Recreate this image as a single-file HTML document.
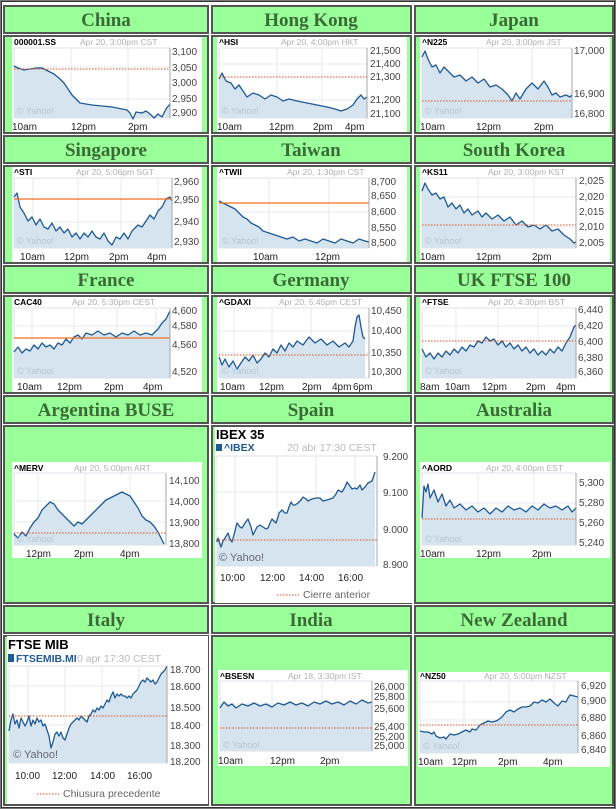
<!DOCTYPE html>
<html><head><meta charset="utf-8"><style>
html,body{margin:0;padding:0;background:#fff;width:616px;height:809px;overflow:hidden}
svg{display:block}
.h{font-family:"Liberation Serif",serif;font-weight:bold;font-size:19px;fill:#3b6a36;text-anchor:middle}
.t{font-family:"Liberation Sans",sans-serif;font-weight:bold;font-size:8.5px;fill:#000}
.d{font-family:"Liberation Sans",sans-serif;font-size:8.5px;fill:#b0b0b0}
.y{font-family:"Liberation Sans",sans-serif;font-size:10px;fill:#444}
.x{font-family:"Liberation Sans",sans-serif;font-size:10px;fill:#222}
.c{font-family:"Liberation Sans",sans-serif;font-size:9px;fill:#b8c6d4}
.ln{fill:none;stroke:#1f5a94;stroke-width:1.3;stroke-linejoin:round}
.ar{fill:#d6e4ef}
.g{stroke:#e4eaf0;stroke-width:1}
.rd{stroke:#e0501a;stroke-width:1;stroke-dasharray:1.5,1.5}
.rs{stroke:#f07020;stroke-width:1.2}
.cell{fill:#99ff99;stroke:#555;stroke-width:2}
</style></head><body>
<svg width="616" height="809" viewBox="0 0 616 809" xmlns="http://www.w3.org/2000/svg">
<rect x="0.5" y="0.5" width="615" height="808" fill="#fff" stroke="#777" stroke-width="1"/>
<rect x="1.5" y="1.5" width="613" height="806" fill="none" stroke="#333" stroke-width="1"/>
<g>
<rect class="cell" x="4" y="6" width="204" height="27"/><rect class="cell" x="212" y="6" width="199" height="27"/><rect class="cell" x="415" y="6" width="198" height="27"/>
<rect class="cell" x="4" y="36" width="204" height="97"/><rect class="cell" x="212" y="36" width="199" height="97"/><rect class="cell" x="415" y="36" width="198" height="97"/>
<rect class="cell" x="4" y="136" width="204" height="27"/><rect class="cell" x="212" y="136" width="199" height="27"/><rect class="cell" x="415" y="136" width="198" height="27"/>
<rect class="cell" x="4" y="166" width="204" height="97"/><rect class="cell" x="212" y="166" width="199" height="97"/><rect class="cell" x="415" y="166" width="198" height="97"/>
<rect class="cell" x="4" y="266" width="204" height="27"/><rect class="cell" x="212" y="266" width="199" height="27"/><rect class="cell" x="415" y="266" width="198" height="27"/>
<rect class="cell" x="4" y="296" width="204" height="97"/><rect class="cell" x="212" y="296" width="199" height="97"/><rect class="cell" x="415" y="296" width="198" height="97"/>
<rect class="cell" x="4" y="396" width="204" height="27"/><rect class="cell" x="212" y="396" width="199" height="27"/><rect class="cell" x="415" y="396" width="198" height="27"/>
<rect class="cell" x="4" y="426" width="204" height="177"/><rect class="cell" x="212" y="426" width="199" height="177"/><rect class="cell" x="415" y="426" width="198" height="177"/>
<rect class="cell" x="4" y="606" width="204" height="27"/><rect class="cell" x="212" y="606" width="199" height="27"/><rect class="cell" x="415" y="606" width="198" height="27"/>
<rect class="cell" x="4" y="636" width="204" height="169"/><rect class="cell" x="212" y="636" width="199" height="169"/><rect class="cell" x="415" y="636" width="198" height="169"/>
</g>
<text class="h" x="106" y="26">China</text><text class="h" x="311" y="26">Hong Kong</text><text class="h" x="514" y="26">Japan</text>
<text class="h" x="106" y="156">Singapore</text><text class="h" x="311" y="156">Taiwan</text><text class="h" x="514" y="156">South Korea</text>
<text class="h" x="106" y="286">France</text><text class="h" x="311" y="286">Germany</text><text class="h" x="514" y="286">UK FTSE 100</text>
<text class="h" x="106" y="416">Argentina BUSE</text><text class="h" x="311" y="416">Spain</text><text class="h" x="514" y="416">Australia</text>
<text class="h" x="106" y="626">Italy</text><text class="h" x="311" y="626">India</text><text class="h" x="514" y="626">New Zealand</text>

<!-- China -->
<g transform="translate(12,37)">
<rect width="190" height="95" fill="#fff"/><rect x="2" y="11" width="156" height="70" fill="#fff" stroke="#ccd" stroke-width="0.6"/>
<line class="g" x1="59" y1="11" x2="59" y2="81"/><line class="g" x1="116" y1="11" x2="116" y2="81"/><line class="g" x1="2" y1="30" x2="158" y2="30"/><line class="g" x1="2" y1="62" x2="158" y2="62"/>
<polygon class="ar" points="2,29 6,31 12,33 18,32 25,31 30,31 36,34 42,37 48,42 52,46 56,52 60,58 64,62 68,66 80,68 100,70 115,73 118,76 121,82 124,75 130,76 134,74 138,77 142,81 146,77 150,80 154,72 158,67 158,81 2,81"/>
<polyline class="ln" points="2,29 6,31 12,33 18,32 25,31 30,31 36,34 42,37 48,42 52,46 56,52 60,58 64,62 68,66 80,68 100,70 115,73 118,76 121,82 124,75 130,76 134,74 138,77 142,81 146,77 150,80 154,72 158,67"/>
<line class="rd" x1="2" y1="32" x2="158" y2="32"/><line x1="158" y1="11" x2="158" y2="81" stroke="#999" stroke-width="0.8"/>
<text class="c" x="5" y="77">© Yahoo!</text><text class="t" x="2" y="8">000001.SS</text><text class="d" x="68" y="8">Apr 20, 3:00pm CST</text>
<text class="y" x="160" y="18">3,100</text><text class="y" x="160" y="34">3,050</text><text class="y" x="160" y="49">3,000</text><text class="y" x="160" y="65">2,950</text><text class="y" x="160" y="79">2,900</text>
<text class="x" x="0" y="93">10am</text><text class="x" x="59" y="93">12pm</text><text class="x" x="116" y="93">2pm</text></g>

<!-- Hong Kong -->
<g transform="translate(217,37)">
<rect width="190" height="95" fill="#fff"/><rect x="2" y="11" width="148" height="70" fill="#fff" stroke="#ccd" stroke-width="0.6"/>
<line class="g" x1="60" y1="11" x2="60" y2="81"/><line class="g" x1="105" y1="11" x2="105" y2="81"/><line class="g" x1="2" y1="27" x2="150" y2="27"/><line class="g" x1="2" y1="63" x2="150" y2="63"/>
<polygon class="ar" points="2,42 5,36 9,44 14,46 18,52 22,48 26,54 30,60 36,56 42,58 48,62 54,58 60,60 66,64 72,62 80,64 90,66 100,68 110,70 118,72 124,74 130,72 136,68 140,62 144,58 147,62 150,60 150,81 2,81"/>
<polyline class="ln" points="2,42 5,36 9,44 14,46 18,52 22,48 26,54 30,60 36,56 42,58 48,62 54,58 60,60 66,64 72,62 80,64 90,66 100,68 110,70 118,72 124,74 130,72 136,68 140,62 144,58 147,62 150,60"/>
<line class="rd" x1="2" y1="40" x2="150" y2="40"/><line x1="150" y1="11" x2="150" y2="81" stroke="#999" stroke-width="0.8"/>
<text class="c" x="5" y="77">© Yahoo!</text><text class="t" x="2" y="8">^HSI</text><text class="d" x="64" y="8">Apr 20, 4:00pm HKT</text>
<text class="y" x="153" y="17">21,500</text><text class="y" x="153" y="30">21,400</text><text class="y" x="153" y="43">21,300</text><text class="y" x="153" y="66">21,200</text><text class="y" x="153" y="80">21,100</text>
<text class="x" x="0" y="93">10am</text><text class="x" x="52" y="93">12pm</text><text class="x" x="96" y="93">2pm</text><text class="x" x="128" y="93">4pm</text></g>

<!-- Japan -->
<g transform="translate(420,37)">
<rect width="190" height="95" fill="#fff"/><rect x="2" y="11" width="150" height="70" fill="#fff" stroke="#ccd" stroke-width="0.6"/>
<line class="g" x1="58" y1="11" x2="58" y2="81"/><line class="g" x1="112" y1="11" x2="112" y2="81"/><line class="g" x1="2" y1="56" x2="152" y2="56"/>
<polygon class="ar" points="2,20 5,14 8,22 12,30 16,28 20,36 24,30 28,34 34,40 40,38 46,44 52,40 58,46 64,42 70,50 76,48 82,52 88,58 92,64 96,56 100,62 106,52 112,46 118,52 124,44 128,50 132,58 136,56 140,60 146,58 150,60 152,58 152,81 2,81"/>
<polyline class="ln" points="2,20 5,14 8,22 12,30 16,28 20,36 24,30 28,34 34,40 40,38 46,44 52,40 58,46 64,42 70,50 76,48 82,52 88,58 92,64 96,56 100,62 106,52 112,46 118,52 124,44 128,50 132,58 136,56 140,60 146,58 150,60 152,58"/>
<line class="rd" x1="2" y1="64" x2="152" y2="64"/><line x1="152" y1="11" x2="152" y2="81" stroke="#999" stroke-width="0.8"/>
<text class="c" x="5" y="77">© Yahoo!</text><text class="t" x="2" y="8">^N225</text><text class="d" x="66" y="8">Apr 20, 3:00pm JST</text>
<text class="y" x="154" y="17">17,000</text><text class="y" x="154" y="60">16,900</text><text class="y" x="154" y="80">16,800</text>
<text class="x" x="0" y="93">10am</text><text class="x" x="56" y="93">12pm</text><text class="x" x="114" y="93">2pm</text></g>

<!-- Singapore -->
<g transform="translate(12,167)">
<rect width="190" height="95" fill="#fff"/><rect x="2" y="11" width="158" height="70" fill="#fff" stroke="#ccd" stroke-width="0.6"/>
<line class="g" x1="21" y1="11" x2="21" y2="81"/><line class="g" x1="66" y1="11" x2="66" y2="81"/><line class="g" x1="109" y1="11" x2="109" y2="81"/><line class="g" x1="146" y1="11" x2="146" y2="81"/><line class="g" x1="2" y1="55" x2="160" y2="55"/>
<polygon class="ar" points="2,30 5,26 8,40 12,46 16,54 20,50 24,58 28,52 32,60 36,62 40,56 44,64 48,60 52,66 56,62 60,70 64,66 68,72 72,66 76,70 80,64 84,70 88,72 92,66 96,74 100,78 104,70 108,72 112,66 116,72 120,64 126,58 130,60 134,54 138,48 142,52 146,44 150,40 154,32 158,30 160,34 160,81 2,81"/>
<polyline class="ln" points="2,30 5,26 8,40 12,46 16,54 20,50 24,58 28,52 32,60 36,62 40,56 44,64 48,60 52,66 56,62 60,70 64,66 68,72 72,66 76,70 80,64 84,70 88,72 92,66 96,74 100,78 104,70 108,72 112,66 116,72 120,64 126,58 130,60 134,54 138,48 142,52 146,44 150,40 154,32 158,30 160,34"/>
<line class="rs" x1="2" y1="32" x2="160" y2="32"/><line x1="160" y1="11" x2="160" y2="81" stroke="#999" stroke-width="0.8"/>
<text class="c" x="5" y="77">© Yahoo!</text><text class="t" x="2" y="8">^STI</text><text class="d" x="64" y="8">Apr 20, 5:06pm SGT</text>
<text class="y" x="162" y="18">2,960</text><text class="y" x="162" y="36">2,950</text><text class="y" x="162" y="58">2,940</text><text class="y" x="162" y="78">2,930</text>
<text class="x" x="8" y="93">10am</text><text class="x" x="52" y="93">12pm</text><text class="x" x="97" y="93">2pm</text><text class="x" x="135" y="93">4pm</text></g>

<!-- Taiwan -->
<g transform="translate(217,167)">
<rect width="190" height="95" fill="#fff"/><rect x="2" y="11" width="150" height="70" fill="#fff" stroke="#ccd" stroke-width="0.6"/>
<line class="g" x1="52" y1="11" x2="52" y2="81"/><line class="g" x1="112" y1="11" x2="112" y2="81"/><line class="g" x1="2" y1="45" x2="152" y2="45"/>
<polygon class="ar" points="2,34 6,36 10,38 14,40 18,42 22,46 26,50 30,52 34,56 38,58 42,60 46,64 52,66 58,68 64,70 70,72 76,70 82,74 88,72 94,74 100,76 106,72 112,74 118,76 124,72 130,74 136,76 142,72 148,74 152,75 152,81 2,81"/>
<polyline class="ln" points="2,34 6,36 10,38 14,40 18,42 22,46 26,50 30,52 34,56 38,58 42,60 46,64 52,66 58,68 64,70 70,72 76,70 82,74 88,72 94,74 100,76 106,72 112,74 118,76 124,72 130,74 136,76 142,72 148,74 152,75"/>
<line class="rs" x1="2" y1="36" x2="152" y2="36"/><line x1="152" y1="11" x2="152" y2="81" stroke="#999" stroke-width="0.8"/>
<text class="c" x="5" y="77">© Yahoo!</text><text class="t" x="2" y="8">^TWII</text><text class="d" x="70" y="8">Apr 20, 1:30pm CST</text>
<text class="y" x="154" y="18">8,700</text><text class="y" x="154" y="32">8,650</text><text class="y" x="154" y="48">8,600</text><text class="y" x="154" y="64">8,550</text><text class="y" x="154" y="79">8,500</text>
<text class="x" x="36" y="93">10am</text><text class="x" x="98" y="93">12pm</text></g>

<!-- South Korea -->
<g transform="translate(420,167)">
<rect width="190" height="95" fill="#fff"/><rect x="2" y="11" width="154" height="70" fill="#fff" stroke="#ccd" stroke-width="0.6"/>
<line class="g" x1="58" y1="11" x2="58" y2="81"/><line class="g" x1="114" y1="11" x2="114" y2="81"/><line class="g" x1="2" y1="30" x2="156" y2="30"/><line class="g" x1="2" y1="60" x2="156" y2="60"/>
<polygon class="ar" points="2,24 5,16 8,22 12,28 16,26 20,32 24,30 28,40 32,36 36,42 40,38 44,46 48,42 52,48 58,44 62,50 66,46 72,52 78,48 84,54 90,50 96,58 102,54 108,60 114,58 120,62 126,58 132,64 138,62 144,68 150,72 154,76 156,75 156,81 2,81"/>
<polyline class="ln" points="2,24 5,16 8,22 12,28 16,26 20,32 24,30 28,40 32,36 36,42 40,38 44,46 48,42 52,48 58,44 62,50 66,46 72,52 78,48 84,54 90,50 96,58 102,54 108,60 114,58 120,62 126,58 132,64 138,62 144,68 150,72 154,76 156,75"/>
<line class="rd" x1="2" y1="58" x2="156" y2="58"/><line x1="156" y1="11" x2="156" y2="81" stroke="#999" stroke-width="0.8"/>
<text class="c" x="5" y="77">© Yahoo!</text><text class="t" x="2" y="8">^KS11</text><text class="d" x="68" y="8">Apr 20, 3:00pm KST</text>
<text class="y" x="159" y="17">2,025</text><text class="y" x="159" y="33">2,020</text><text class="y" x="159" y="48">2,015</text><text class="y" x="159" y="63">2,010</text><text class="y" x="159" y="79">2,005</text>
<text class="x" x="0" y="93">10am</text><text class="x" x="56" y="93">12pm</text><text class="x" x="112" y="93">2pm</text></g>

<!-- France -->
<g transform="translate(12,297)">
<rect width="190" height="95" fill="#fff"/><rect x="2" y="11" width="156" height="70" fill="#fff" stroke="#ccd" stroke-width="0.6"/>
<line class="g" x1="20" y1="11" x2="20" y2="81"/><line class="g" x1="62" y1="11" x2="62" y2="81"/><line class="g" x1="105" y1="11" x2="105" y2="81"/><line class="g" x1="144" y1="11" x2="144" y2="81"/><line class="g" x1="2" y1="29" x2="158" y2="29"/><line class="g" x1="2" y1="60" x2="158" y2="60"/>
<polygon class="ar" points="2,55 6,50 10,56 14,52 18,54 22,48 26,52 30,46 34,50 38,48 42,52 46,46 50,48 54,42 58,46 62,40 66,38 70,42 74,36 80,38 86,34 92,38 98,36 104,40 110,36 116,38 122,34 128,38 134,36 140,38 146,32 150,26 154,22 158,14 158,81 2,81"/>
<polyline class="ln" points="2,55 6,50 10,56 14,52 18,54 22,48 26,52 30,46 34,50 38,48 42,52 46,46 50,48 54,42 58,46 62,40 66,38 70,42 74,36 80,38 86,34 92,38 98,36 104,40 110,36 116,38 122,34 128,38 134,36 140,38 146,32 150,26 154,22 158,14"/>
<line class="rs" x1="2" y1="41" x2="158" y2="41"/><line x1="158" y1="11" x2="158" y2="81" stroke="#999" stroke-width="0.8"/>
<text class="c" x="5" y="77">© Yahoo!</text><text class="t" x="2" y="8">CAC40</text><text class="d" x="60" y="8">Apr 20, 5:30pm CEST</text>
<text class="y" x="160" y="17">4,600</text><text class="y" x="160" y="32">4,580</text><text class="y" x="160" y="51">4,560</text><text class="y" x="160" y="78">4,520</text>
<text class="x" x="5" y="93">10am</text><text class="x" x="45" y="93">12pm</text><text class="x" x="92" y="93">2pm</text><text class="x" x="131" y="93">4pm</text></g>

<!-- Germany -->
<g transform="translate(217,297)">
<rect width="190" height="95" fill="#fff"/><rect x="2" y="11" width="150" height="70" fill="#fff" stroke="#ccd" stroke-width="0.6"/>
<line class="g" x1="17" y1="11" x2="17" y2="81"/><line class="g" x1="55" y1="11" x2="55" y2="81"/><line class="g" x1="94" y1="11" x2="94" y2="81"/><line class="g" x1="2" y1="34" x2="152" y2="34"/><line class="g" x1="2" y1="56" x2="152" y2="56"/>
<polygon class="ar" points="2,60 5,68 8,62 12,70 16,64 20,72 24,66 28,60 32,64 36,58 40,66 44,62 48,56 52,60 56,52 60,56 64,48 68,54 72,46 76,50 80,44 86,48 92,40 98,46 104,42 110,48 116,44 122,50 128,46 132,50 136,44 138,30 140,20 142,18 144,30 146,40 148,42 148,81 2,81"/>
<polyline class="ln" points="2,60 5,68 8,62 12,70 16,64 20,72 24,66 28,60 32,64 36,58 40,66 44,62 48,56 52,60 56,52 60,56 64,48 68,54 72,46 76,50 80,44 86,48 92,40 98,46 104,42 110,48 116,44 122,50 128,46 132,50 136,44 138,30 140,20 142,18 144,30 146,40 148,42"/>
<line class="rd" x1="2" y1="58" x2="152" y2="58"/><line x1="152" y1="11" x2="152" y2="81" stroke="#999" stroke-width="0.8"/>
<text class="c" x="5" y="77">© Yahoo!</text><text class="t" x="2" y="8">^GDAXI</text><text class="d" x="62" y="8">Apr 20, 5:45pm CEST</text>
<text class="y" x="154" y="17">10,450</text><text class="y" x="154" y="37">10,400</text><text class="y" x="154" y="59">10,350</text><text class="y" x="154" y="78">10,300</text>
<text class="x" x="3" y="93">10am</text><text class="x" x="42" y="93">12pm</text><text class="x" x="85" y="93">2pm</text><text class="x" x="115" y="93">4pm</text><text class="x" x="136" y="93">6pm</text></g>

<!-- UK -->
<g transform="translate(420,297)">
<rect width="190" height="95" fill="#fff"/><rect x="2" y="11" width="154" height="70" fill="#fff" stroke="#ccd" stroke-width="0.6"/>
<line class="g" x1="36" y1="11" x2="36" y2="81"/><line class="g" x1="78" y1="11" x2="78" y2="81"/><line class="g" x1="118" y1="11" x2="118" y2="81"/><line class="g" x1="2" y1="29" x2="156" y2="29"/><line class="g" x1="2" y1="61" x2="156" y2="61"/>
<polygon class="ar" points="2,52 6,60 10,56 14,62 18,56 22,60 26,54 30,58 34,52 38,56 42,50 46,54 50,48 54,50 58,44 62,46 66,40 70,44 74,42 78,48 82,44 86,50 90,46 94,52 98,48 102,54 106,50 110,56 114,52 118,58 122,54 126,58 130,52 134,56 138,50 142,54 146,46 150,40 154,30 156,28 156,81 2,81"/>
<polyline class="ln" points="2,52 6,60 10,56 14,62 18,56 22,60 26,54 30,58 34,52 38,56 42,50 46,54 50,48 54,50 58,44 62,46 66,40 70,44 74,42 78,48 82,44 86,50 90,46 94,52 98,48 102,54 106,50 110,56 114,52 118,58 122,54 126,58 130,52 134,56 138,50 142,54 146,46 150,40 154,30 156,28"/>
<line class="rd" x1="2" y1="44" x2="156" y2="44"/><line x1="156" y1="11" x2="156" y2="81" stroke="#999" stroke-width="0.8"/>
<text class="c" x="5" y="77">© Yahoo!</text><text class="t" x="2" y="8">^FTSE</text><text class="d" x="68" y="8">Apr 20, 4:30pm BST</text>
<text class="y" x="158" y="16">6,440</text><text class="y" x="158" y="32">6,420</text><text class="y" x="158" y="48">6,400</text><text class="y" x="158" y="64">6,380</text><text class="y" x="158" y="78">6,360</text>
<text class="x" x="0" y="93">8am</text><text class="x" x="25" y="93">10am</text><text class="x" x="62" y="93">12pm</text><text class="x" x="106" y="93">2pm</text><text class="x" x="136" y="93">4pm</text></g>

<!-- Argentina -->
<g transform="translate(12,462)">
<rect width="190" height="96" fill="#fff"/><rect x="2" y="11" width="152" height="72" fill="#fff" stroke="#ccd" stroke-width="0.6"/>
<line class="g" x1="26" y1="11" x2="26" y2="83"/><line class="g" x1="73" y1="11" x2="73" y2="83"/><line class="g" x1="118" y1="11" x2="118" y2="83"/><line class="g" x1="2" y1="39" x2="154" y2="39"/><line class="g" x1="2" y1="60" x2="154" y2="60"/>
<polygon class="ar" points="2,72 6,76 10,70 14,74 18,66 22,60 26,56 30,48 34,44 38,40 42,42 46,48 50,52 54,56 58,60 62,64 66,60 70,62 74,58 78,54 82,50 86,46 90,42 94,38 98,36 102,34 106,32 110,30 114,32 118,34 122,40 126,46 130,54 134,58 138,60 142,64 146,70 150,78 152,82 152,83 2,83"/>
<polyline class="ln" points="2,72 6,76 10,70 14,74 18,66 22,60 26,56 30,48 34,44 38,40 42,42 46,48 50,52 54,56 58,60 62,64 66,60 70,62 74,58 78,54 82,50 86,46 90,42 94,38 98,36 102,34 106,32 110,30 114,32 118,34 122,40 126,46 130,54 134,58 138,60 142,64 146,70 150,78 152,82"/>
<line class="rd" x1="2" y1="71" x2="154" y2="71"/><line x1="154" y1="11" x2="154" y2="83" stroke="#999" stroke-width="0.8"/>
<text class="c" x="5" y="80">© Yahoo!</text><text class="t" x="2" y="9">^MERV</text><text class="d" x="62" y="9">Apr 20, 5:00pm ART</text>
<text class="y" x="157" y="22">14,100</text><text class="y" x="157" y="43">14,000</text><text class="y" x="157" y="64">13,900</text><text class="y" x="157" y="85">13,800</text>
<text class="x" x="14" y="95">12pm</text><text class="x" x="62" y="95">2pm</text><text class="x" x="108" y="95">4pm</text></g>

<!-- Australia -->
<g transform="translate(420,462)">
<rect width="190" height="96" fill="#fff"/><rect x="2" y="11" width="154" height="72" fill="#fff" stroke="#ccd" stroke-width="0.6"/>
<line class="g" x1="58" y1="11" x2="58" y2="83"/><line class="g" x1="114" y1="11" x2="114" y2="83"/><line class="g" x1="2" y1="41" x2="156" y2="41"/><line class="g" x1="2" y1="60" x2="156" y2="60"/>
<polygon class="ar" points="2,56 4,24 6,30 8,22 10,36 14,28 18,40 22,32 26,44 30,38 34,46 40,42 46,48 52,44 58,50 64,46 70,52 76,46 82,50 88,44 94,48 100,46 106,50 112,44 118,48 124,42 130,46 136,44 142,48 148,44 152,50 156,46 156,83 2,83"/>
<polyline class="ln" points="2,56 4,24 6,30 8,22 10,36 14,28 18,40 22,32 26,44 30,38 34,46 40,42 46,48 52,44 58,50 64,46 70,52 76,46 82,50 88,44 94,48 100,46 106,50 112,44 118,48 124,42 130,46 136,44 142,48 148,44 152,50 156,46"/>
<line class="rd" x1="2" y1="57" x2="156" y2="57"/><line x1="156" y1="11" x2="156" y2="83" stroke="#999" stroke-width="0.8"/>
<text class="c" x="5" y="80">© Yahoo!</text><text class="t" x="2" y="9">^AORD</text><text class="d" x="66" y="9">Apr 20, 4:00pm EST</text>
<text class="y" x="159" y="24">5,300</text><text class="y" x="159" y="44">5,280</text><text class="y" x="159" y="64">5,260</text><text class="y" x="159" y="84">5,240</text>
<text class="x" x="0" y="95">10am</text><text class="x" x="56" y="95">12pm</text><text class="x" x="112" y="95">2pm</text></g>

<!-- India -->
<g transform="translate(218,670)">
<rect width="190" height="96" fill="#fff"/><rect x="2" y="11" width="152" height="70" fill="#fff" stroke="#ccd" stroke-width="0.6"/>
<line class="g" x1="54" y1="11" x2="54" y2="81"/><line class="g" x1="104" y1="11" x2="104" y2="81"/><line class="g" x1="2" y1="34" x2="154" y2="34"/><line class="g" x1="2" y1="56" x2="154" y2="56"/>
<polygon class="ar" points="2,38 6,32 10,36 14,34 18,38 24,34 30,36 36,33 42,36 48,34 54,37 60,33 66,35 72,32 78,35 84,33 90,36 96,32 102,34 108,31 114,34 120,32 126,35 132,31 138,34 144,30 150,33 154,32 154,81 2,81"/>
<polyline class="ln" points="2,38 6,32 10,36 14,34 18,38 24,34 30,36 36,33 42,36 48,34 54,37 60,33 66,35 72,32 78,35 84,33 90,36 96,32 102,34 108,31 114,34 120,32 126,35 132,31 138,34 144,30 150,33 154,32"/>
<line class="rd" x1="2" y1="58" x2="154" y2="58" stroke="#c9a"/><line x1="154" y1="11" x2="154" y2="81" stroke="#999" stroke-width="0.8"/>
<text class="c" x="5" y="78">© Yahoo!</text><text class="t" x="2" y="9">^BSESN</text><text class="d" x="70" y="9">Apr 18, 3:30pm IST</text>
<text class="y" x="156" y="20">26,000</text><text class="y" x="156" y="30">25,800</text><text class="y" x="156" y="42">25,600</text><text class="y" x="156" y="60">25,400</text><text class="y" x="156" y="70">25,200</text><text class="y" x="156" y="79">25,000</text>
<text class="x" x="0" y="94">10am</text><text class="x" x="52" y="94">12pm</text><text class="x" x="102" y="94">2pm</text></g>

<!-- New Zealand -->
<g transform="translate(418,672)">
<rect width="192" height="95" fill="#fff"/><rect x="2" y="9" width="158" height="72" fill="#fff" stroke="#ccd" stroke-width="0.6"/>
<line class="g" x1="46" y1="9" x2="46" y2="81"/><line class="g" x1="91" y1="9" x2="91" y2="81"/><line class="g" x1="136" y1="9" x2="136" y2="81"/><line class="g" x1="2" y1="30" x2="160" y2="30"/><line class="g" x1="2" y1="48" x2="160" y2="48"/>
<polygon class="ar" points="2,59 6,60 10,60 14,62 16,60 18,64 22,66 26,65 28,67 32,62 36,63 40,62 44,60 48,58 52,60 54,57 58,58 62,53 66,51 70,49 74,50 78,49 80,48 84,45 88,40 92,38 96,40 100,37 104,35 108,35 112,34 116,30 120,31 124,28 128,30 132,27 136,31 140,34 144,29 148,30 150,26 152,23 156,24 160,25 160,81 2,81"/>
<polyline class="ln" points="2,59 6,60 10,60 14,62 16,60 18,64 22,66 26,65 28,67 32,62 36,63 40,62 44,60 48,58 52,60 54,57 58,58 62,53 66,51 70,49 74,50 78,49 80,48 84,45 88,40 92,38 96,40 100,37 104,35 108,35 112,34 116,30 120,31 124,28 128,30 132,27 136,31 140,34 144,29 148,30 150,26 152,23 156,24 160,25"/>
<line class="rd" x1="2" y1="53" x2="160" y2="53"/><line x1="160" y1="9" x2="160" y2="81" stroke="#999" stroke-width="0.8"/>
<text class="c" x="5" y="77">© Yahoo!</text><text class="t" x="2" y="7">^NZ50</text><text class="d" x="66" y="7">Apr 20, 5:00pm NZST</text>
<text class="y" x="163" y="17">6,920</text><text class="y" x="163" y="32">6,900</text><text class="y" x="163" y="49">6,880</text><text class="y" x="163" y="67">6,860</text><text class="y" x="163" y="81">6,840</text>
<text class="x" x="0" y="93">10am</text><text class="x" x="34" y="93">12pm</text><text class="x" x="80" y="93">2pm</text><text class="x" x="125" y="93">4pm</text></g>

<!-- Spain -->
<g transform="translate(215,427)">
<rect width="198" height="176" fill="#fff"/>
<text x="1" y="12" font-family="Liberation Sans,sans-serif" font-weight="bold" font-size="13" fill="#000">IBEX 35</text>
<rect x="1" y="17" width="6" height="7" fill="#1f5a94"/><text x="9" y="24" font-family="Liberation Sans,sans-serif" font-weight="bold" font-size="10.5" fill="#1f5a94">^IBEX</text>
<text x="72" y="24" font-family="Liberation Sans,sans-serif" font-size="10.5" fill="#bbb">20 abr 17:30 CEST</text>
<rect x="1" y="29" width="161" height="110" fill="#fff" stroke="#ccd" stroke-width="0.6"/>
<line class="g" x1="20" y1="29" x2="20" y2="139"/><line class="g" x1="62" y1="29" x2="62" y2="139"/><line class="g" x1="101" y1="29" x2="101" y2="139"/><line class="g" x1="140" y1="29" x2="140" y2="139"/><line class="g" x1="1" y1="65" x2="162" y2="65"/><line class="g" x1="1" y1="102" x2="162" y2="102"/>
<polygon class="ar" points="2,115 3,111 6,120 8,114 10,111 13,106 15,112 17,115 20,104 22,96 25,100 27,101 30,96 33,92 36,100 38,108 40,104 42,100 45,98 48,100 51,102 53,101 55,96 57,92 59,94 61,96 63,90 64,86 67,83 70,86 72,86 74,80 76,75 78,78 80,78 83,76 86,73 88,70 91,72 93,74 97,72 101,71 105,71 108,74 112,73 115,72 118,71 121,67 123,63 125,64 127,65 130,60 132,55 135,59 137,62 140,61 142,62 145,58 147,63 150,60 153,56 155,55 157,54 159,48 160,45 160,139 2,139"/>
<polyline class="ln" points="2,115 3,111 6,120 8,114 10,111 13,106 15,112 17,115 20,104 22,96 25,100 27,101 30,96 33,92 36,100 38,108 40,104 42,100 45,98 48,100 51,102 53,101 55,96 57,92 59,94 61,96 63,90 64,86 67,83 70,86 72,86 74,80 76,75 78,78 80,78 83,76 86,73 88,70 91,72 93,74 97,72 101,71 105,71 108,74 112,73 115,72 118,71 121,67 123,63 125,64 127,65 130,60 132,55 135,59 137,62 140,61 142,62 145,58 147,63 150,60 153,56 155,55 157,54 159,48 160,45"/>
<line class="rd" x1="1" y1="113" x2="162" y2="113"/><line x1="162" y1="29" x2="162" y2="139" stroke="#999" stroke-width="0.8"/>
<text x="4" y="134" font-family="Liberation Sans,sans-serif" font-size="11" fill="#667">© Yahoo!</text>
<text class="y" x="168" y="33" font-size="11">9.200</text><text class="y" x="168" y="69" font-size="11">9.100</text><text class="y" x="168" y="106" font-size="11">9.000</text><text class="y" x="168" y="141" font-size="11">8.900</text>
<text class="x" x="5" y="154" font-size="11">10:00</text><text class="x" x="45" y="154" font-size="11">12:00</text><text class="x" x="84" y="154" font-size="11">14:00</text><text class="x" x="123" y="154" font-size="11">16:00</text>
<line class="rd" x1="62" y1="168" x2="84" y2="168"/><text x="88" y="171" font-family="Liberation Sans,sans-serif" font-size="10.5" fill="#666">Cierre anterior</text>
</g>

<!-- Italy -->
<g transform="translate(7,636)">
<rect width="201" height="168" fill="#fff"/>
<text x="1" y="13" font-family="Liberation Sans,sans-serif" font-weight="bold" font-size="13" fill="#000">FTSE MIB</text>
<rect x="1" y="18" width="6" height="8" fill="#1f5a94"/>
<text x="70" y="26" font-family="Liberation Sans,sans-serif" font-size="10.5" fill="#bbb">0 apr 17:30 CEST</text>
<text x="9" y="26" font-family="Liberation Sans,sans-serif" font-weight="bold" font-size="10.5" fill="#1f5a94">FTSEMIB.MI</text>
<rect x="2" y="30" width="158" height="97" fill="#fff" stroke="#ccd" stroke-width="0.6"/>
<line class="g" x1="21" y1="30" x2="21" y2="127"/><line class="g" x1="58" y1="30" x2="58" y2="127"/><line class="g" x1="95" y1="30" x2="95" y2="127"/><line class="g" x1="132" y1="30" x2="132" y2="127"/><line class="g" x1="2" y1="50" x2="160" y2="50"/><line class="g" x1="2" y1="89" x2="160" y2="89"/><line class="g" x1="2" y1="109" x2="160" y2="109"/>
<polygon class="ar" points="2,95 4,84 6,78 8,88 10,84 12,92 14,82 16,86 18,90 20,86 22,80 24,90 26,84 28,88 30,82 32,86 34,84 36,90 38,88 40,94 42,100 44,112 46,106 48,98 50,96 52,100 54,96 56,102 58,104 60,98 62,92 64,88 66,86 68,84 70,82 72,84 74,80 76,82 78,84 80,86 82,80 84,78 86,74 88,76 90,72 92,74 94,70 96,72 98,68 100,64 102,66 104,60 106,56 108,62 110,58 112,60 114,58 116,60 118,60 120,62 122,60 124,62 126,58 128,56 130,54 132,50 134,46 136,44 138,46 140,42 142,44 144,46 146,44 148,48 150,46 152,42 154,38 156,36 158,34 160,30 160,127 2,127"/>
<polyline class="ln" points="2,95 4,84 6,78 8,88 10,84 12,92 14,82 16,86 18,90 20,86 22,80 24,90 26,84 28,88 30,82 32,86 34,84 36,90 38,88 40,94 42,100 44,112 46,106 48,98 50,96 52,100 54,96 56,102 58,104 60,98 62,92 64,88 66,86 68,84 70,82 72,84 74,80 76,82 78,84 80,86 82,80 84,78 86,74 88,76 90,72 92,74 94,70 96,72 98,68 100,64 102,66 104,60 106,56 108,62 110,58 112,60 114,58 116,60 118,60 120,62 122,60 124,62 126,58 128,56 130,54 132,50 134,46 136,44 138,46 140,42 142,44 144,46 146,44 148,48 150,46 152,42 154,38 156,36 158,34 160,30"/>
<line class="rd" x1="2" y1="80" x2="160" y2="80"/><line x1="160" y1="30" x2="160" y2="127" stroke="#999" stroke-width="0.8"/>
<text x="6" y="122" font-family="Liberation Sans,sans-serif" font-size="11" fill="#667">© Yahoo!</text>
<text class="y" x="163" y="37" font-size="11">18.700</text><text class="y" x="163" y="54" font-size="11">18.600</text><text class="y" x="163" y="75" font-size="11">18.500</text><text class="y" x="163" y="93" font-size="11">18.400</text><text class="y" x="163" y="113" font-size="11">18.300</text><text class="y" x="163" y="129" font-size="11">18.200</text>
<text class="x" x="8" y="143" font-size="11">10:00</text><text class="x" x="45" y="143" font-size="11">12:00</text><text class="x" x="83" y="143" font-size="11">14:00</text><text class="x" x="120" y="143" font-size="11">16:00</text>
<line class="rd" x1="30" y1="158" x2="52" y2="158"/><text x="56" y="161" font-family="Liberation Sans,sans-serif" font-size="10.5" fill="#666">Chiusura precedente</text>
</g>
</svg>
</body></html>
